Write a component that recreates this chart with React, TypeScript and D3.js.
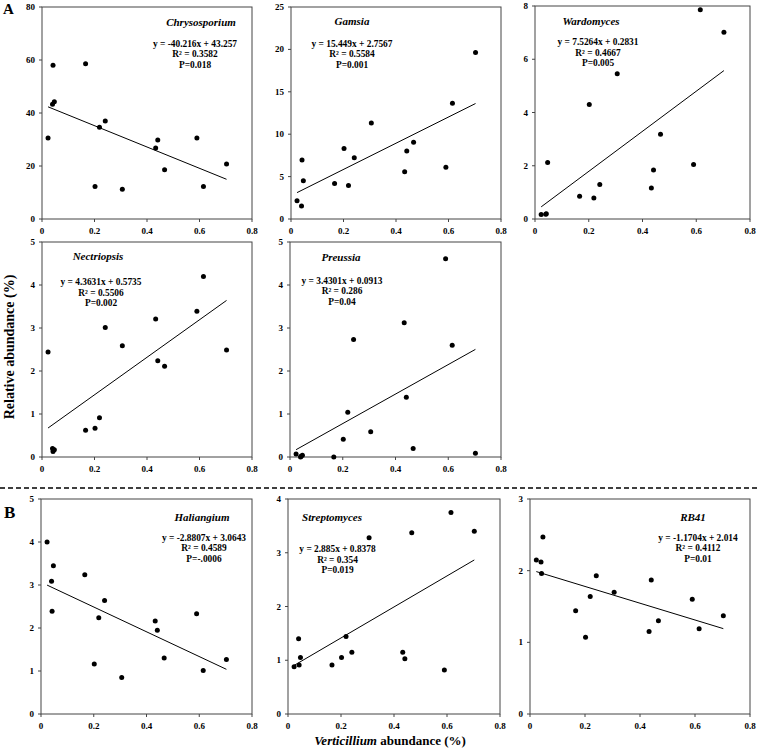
import React from "react";
import * as d3 from "d3";

const verticillium = [0.023, 0.040, 0.042, 0.047, 0.166, 0.202, 0.219, 0.241, 0.306, 0.433, 0.441, 0.467, 0.590, 0.615, 0.703];

const chrysosporium = [30.6, 43.3, 58.0, 44.2, 58.6, 12.3, 34.6, 37.0, 11.2, 26.8, 29.8, 18.6, 30.6, 12.3, 20.8];
const gamsia = [2.16, 1.53, 6.97, 4.5, 4.19, 8.31, 3.96, 7.21, 11.32, 5.56, 8.03, 9.05, 6.11, 13.64, 19.63];
const wardomyces = [0.17, 0.18, 0.2, 2.12, 0.85, 4.3, 0.79, 1.3, 5.46, 1.16, 1.84, 3.18, 2.05, 7.86, 7.01];
const nectriopsis = [2.44, 0.2, 0.13, 0.17, 0.62, 0.67, 0.91, 3.01, 2.59, 3.21, 2.24, 2.11, 3.39, 4.2, 2.49];
const preussia = [0.07, 0.0, 0.02, 0.04, 0.0, 0.41, 1.04, 2.73, 0.59, 3.12, 1.39, 0.2, 4.61, 2.6, 0.09];
const haliangium = [4.0, 3.09, 2.39, 3.45, 3.24, 1.16, 2.24, 2.64, 0.85, 2.16, 1.95, 1.3, 2.33, 1.01, 1.27];
const streptomyces = [0.88, 1.40, 0.91, 1.05, 0.91, 1.05, 1.44, 1.15, 3.28, 1.15, 1.03, 3.37, 0.82, 3.75, 3.4];
const rb41 = [2.15, 2.12, 1.96, 2.47, 1.44, 1.07, 1.64, 1.93, 1.70, 1.15, 1.87, 1.30, 1.60, 1.19, 1.37];

const genera = ["Chrysosporium", "Gamsia", "Wardomyces", "Nectriopsis", "Preussia", "Haliangium", "Streptomyces", "RB41"];
const seriesValues = [chrysosporium, gamsia, wardomyces, nectriopsis, preussia, haliangium, streptomyces, rb41];
const slopes = [-40.216, 15.449, 7.5264, 4.3631, 3.4301, -2.8807, 2.885, -1.1704];
const intercepts = [43.257, 2.7567, 0.2831, 0.5735, 0.0913, 3.0643, 0.8378, 2.014];
const equationLabels = [
  "y = -40.216x + 43.257",
  "y = 15.449x + 2.7567",
  "y = 7.5264x + 0.2831",
  "y = 4.3631x + 0.5735",
  "y = 3.4301x + 0.0913",
  "y = -2.8807x + 3.0643",
  "y = 2.885x + 0.8378",
  "y = -1.1704x + 2.014",
];
const r2Labels = ["R² = 0.3582", "R² = 0.5584", "R² = 0.4667", "R² = 0.5506", "R² = 0.286", "R² = 0.4589", "R² = 0.354", "R² = 0.4112"];
const pLabels = ["P=0.018", "P=0.001", "P=0.005", "P=0.002", "P=0.04", "P=-.0006", "P=0.019", "P=0.01"];
const yMaxes = [80, 25, 8, 5, 5, 5, 4, 3];
const ySteps = [20, 5, 2, 1, 1, 1, 1, 1];
const xTicks = [0, 0.2, 0.4, 0.6, 0.8];

// layout: box [left, top, right, bottom], title [cx, baseline], eq [cx, first baseline]
const layout = [
  { box: [42, 7, 252, 219], title: [201, 26], eq: [195, 46.5] },
  { box: [291, 7, 501, 219], title: [352, 25], eq: [352, 46.5] },
  { box: [535, 6, 750, 219], title: [591, 24.5], eq: [598, 45] },
  { box: [42, 242, 252, 457], title: [98, 259.5], eq: [101, 285] },
  { box: [290, 242, 501, 457], title: [341, 261], eq: [342, 283.5] },
  { box: [41, 499, 252, 714], title: [202, 521], eq: [204, 540.5] },
  { box: [288, 499, 500, 714], title: [332, 521], eq: [337.5, 552] },
  { box: [530, 499, 750, 714], title: [693, 521], eq: [698, 540.5] },
];

const FONT = "'Liberation Serif', 'Times New Roman', Times, serif";

function Panel({ idx }: { idx: number }) {
  const { box, title, eq } = layout[idx];
  const [l, t, r, b] = box;
  const x = d3.scaleLinear().domain([0, 0.8]).range([l, r]);
  const y = d3.scaleLinear().domain([0, yMaxes[idx]]).range([b, t]);
  const yTicks = d3.range(0, yMaxes[idx] + ySteps[idx] / 2, ySteps[idx]);
  const vals = seriesValues[idx];
  const xExt = d3.extent(verticillium) as [number, number];
  const line = d3.line<number>().x((d) => x(d)).y((d) => y(slopes[idx] * d + intercepts[idx]));
  const lh = 10.7;
  return (
    <g>
      <rect x={l} y={t} width={r - l} height={b - t} fill="none" stroke="#444" strokeWidth={1} />
      {yTicks.map((v) => (
        <g key={"y" + v}>
          <line x1={l - 3} x2={l} y1={y(v)} y2={y(v)} stroke="#444" />
          <text x={l - 7} y={y(v) + 3} textAnchor="end" fontSize={9} fontWeight="bold" fontFamily={FONT}>
            {String(v)}
          </text>
        </g>
      ))}
      {xTicks.map((v) => (
        <g key={"x" + v}>
          <line x1={x(v)} x2={x(v)} y1={b} y2={b + 3} stroke="#444" />
          <text x={x(v)} y={b + 14.5} textAnchor="middle" fontSize={9} fontWeight="bold" fontFamily={FONT}>
            {String(+v.toFixed(1))}
          </text>
        </g>
      ))}
      <path d={line(xExt) || ""} fill="none" stroke="#000" strokeWidth={1} />
      {vals.map((v, i) => (
        <circle key={i} cx={x(verticillium[i])} cy={y(v)} r={2.5} fill="#000" />
      ))}
      <text x={title[0]} y={title[1]} textAnchor="middle" fontSize={11} fontWeight="bold" fontStyle="italic" fontFamily={FONT}>
        {genera[idx]}
      </text>
      <g fontSize={9.4} fontWeight="bold" fontFamily={FONT} textAnchor="middle">
        <text x={eq[0]} y={eq[1]}>{equationLabels[idx]}</text>
        <text x={eq[0]} y={eq[1] + lh}>{r2Labels[idx]}</text>
        <text x={eq[0]} y={eq[1] + 2 * lh}>{pLabels[idx]}</text>
      </g>
    </g>
  );
}

export default function App() {
  return (
    <svg
      width={758}
      height={751}
      style={{ position: "absolute", left: 0, top: 0, background: "#fff" }}
    >
      <rect x={0} y={0} width={758} height={751} fill="#fff" />
      {layout.map((_, i) => (
        <Panel key={i} idx={i} />
      ))}
      <line x1={0} x2={758} y1={488} y2={488} stroke="#000" strokeWidth={1.5} strokeDasharray="5,3" />
      <text x={3} y={14} fontSize={15} fontWeight="bold" fontFamily={FONT}>A</text>
      <text x={4} y={518} fontSize={17} fontWeight="bold" fontFamily={FONT}>B</text>
      <text
        transform="translate(14,347) rotate(-90)"
        textAnchor="middle"
        fontSize={14}
        fontWeight="bold"
        fontFamily={FONT}
      >
        Relative abundance (%)
      </text>
      <text x={390} y={745} textAnchor="middle" fontSize={13} fontWeight="bold" fontFamily={FONT}>
        <tspan fontStyle="italic">Verticillium</tspan> abundance (%)
      </text>
    </svg>
  );
}
